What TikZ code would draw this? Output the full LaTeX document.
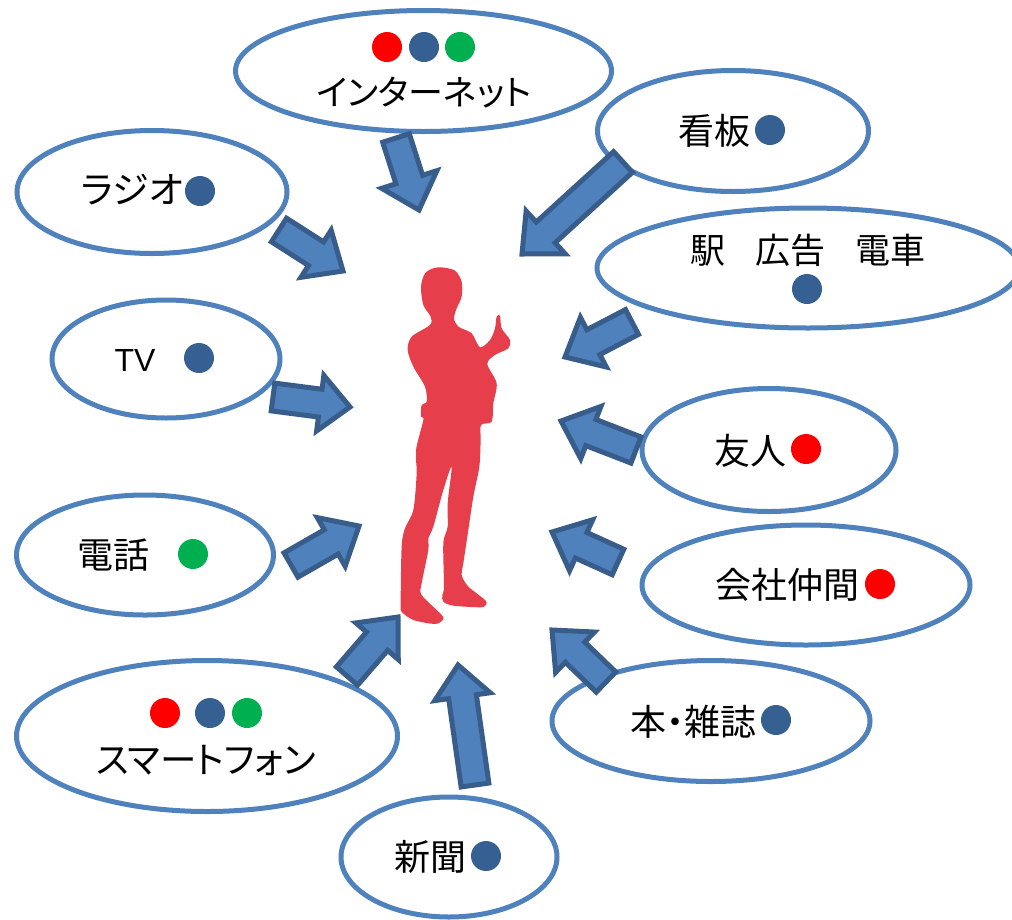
\documentclass[tikz,border=0pt]{standalone}
\usepackage{fontspec}
\usetikzlibrary{shapes.geometric,calc}
\setmainfont{Noto Sans CJK JP}[RawFeature=+palt]
\newfontfamily\latinfont{Liberation Sans}
\definecolor{ringblue}{HTML}{4F81BD}
\definecolor{arrowedge}{HTML}{385D8A}
\definecolor{dotblue}{HTML}{376092}
\definecolor{dotred}{HTML}{FF0000}
\definecolor{dotgreen}{HTML}{00B050}
\definecolor{person}{HTML}{E63E4A}
\tikzset{
  bubble/.style={ellipse,draw=ringblue,line width=5pt,fill=white,inner sep=0pt},
  label/.style={inner sep=0pt},
  dotb/.style={circle,fill=dotblue,minimum size=30pt,inner sep=0pt},
  dotr/.style={circle,fill=dotred,minimum size=30pt,inner sep=0pt},
  dotg/.style={circle,fill=dotgreen,minimum size=30pt,inner sep=0pt},
  barrow/.style={draw=arrowedge,fill=ringblue,line width=5pt,miter limit=10},
}
% tail, tip, shaft half width, head half width, head length
\newcommand\blockarrow[5]{%
  \coordinate (neck) at ($(#2)!#5pt!(#1)$);
  \draw[barrow] ($(#1)!#3pt!90:(#2)$) -- ($(neck)!#3pt!90:(#2)$) -- ($(neck)!#4pt!90:(#2)$) -- (#2)
    -- ($(neck)!#4pt!-90:(#2)$) -- ($(neck)!#3pt!-90:(#2)$) -- ($(#1)!#3pt!-90:(#2)$) -- cycle;
}
\begin{document}
\begin{tikzpicture}[x=1pt,y=-1pt]
\useasboundingbox (0,0) rectangle (1012,919);
% bubbles
\node[bubble,minimum width=376pt,minimum height=121pt] (net) at (423.5,71) {};
\node[bubble,minimum width=271pt,minimum height=121pt] (kanban) at (733,131) {};
\node[bubble,minimum width=270pt,minimum height=123pt] (radio) at (152,192) {};
\node[bubble,minimum width=422pt,minimum height=120pt] (eki) at (808,268) {};
\node[bubble,minimum width=228pt,minimum height=118pt] (tv) at (166,359) {};
\node[bubble,minimum width=254pt,minimum height=123pt] (friend) at (769,450) {};
\node[bubble,minimum width=257pt,minimum height=120pt] (phone) at (145,555) {};
\node[bubble,minimum width=328pt,minimum height=120pt] (work) at (806,585) {};
\node[bubble,minimum width=381pt,minimum height=151pt] (smart) at (207,736) {};
\node[bubble,minimum width=318pt,minimum height=121pt] (book) at (711,721) {};
\node[bubble,minimum width=216pt,minimum height=120pt] (news) at (449,857) {};
% labels
\node[label,font=\fontsize{35}{38}\selectfont] (tnet) at (424,93) {インターネット};
\node[label,font=\fontsize{36}{38}\selectfont] (tkan) at (714,131) {看板};
\node[label,font=\fontsize{37}{38}\selectfont] (trad) at (132,190) {ラジオ};
\node[label,font=\fontsize{35}{38}\selectfont] (teki) at (808,250) {駅\hspace{0.85em}広告\hspace{0.85em}電車};
\node[label,font=\fontsize{32}{34}\selectfont\latinfont] (ttv) at (135,360) {TV};
\node[label,font=\fontsize{36}{38}\selectfont] (tfri) at (750,451) {友人};
\node[label,font=\fontsize{36}{38}\selectfont] (tpho) at (113,555) {電話};
\node[label,font=\fontsize{36}{38}\selectfont] (twor) at (787,585) {会社仲間};
\node[label,font=\fontsize{36.5}{38}\selectfont] (tsma) at (206,760) {スマートフォン};
\node[label,font=\fontsize{36}{38}\selectfont] (tboo) at (693,722) {本・雑誌};
\node[label,font=\fontsize{36}{38}\selectfont] (tnew) at (430,857) {新聞};
% dots
\node[dotr] (d1) at (387,47) {};
\node[dotb] (d2) at (424,47) {};
\node[dotg] (d3) at (460,47) {};
\node[dotb] (d4) at (770,130) {};
\node[dotb] (d5) at (200,191) {};
\node[dotb] (d6) at (807,289) {};
\node[dotb] (d7) at (199,358) {};
\node[dotr] (d8) at (806,449) {};
\node[dotg] (d9) at (193,554) {};
\node[dotr] (d10) at (880,584) {};
\node[dotr] (d11) at (165,713) {};
\node[dotb] (d12) at (210,713) {};
\node[dotg] (d13) at (247,713) {};
\node[dotb] (d14) at (776,720) {};
\node[dotb] (d15) at (486,856) {};
% arrows
\coordinate (a1) at (396,138); \coordinate (b1) at (419,210);
\coordinate (a2) at (623,162); \coordinate (b2) at (522,254);
\coordinate (a3) at (279,230); \coordinate (b3) at (343,271);
\coordinate (a4) at (632,322); \coordinate (b4) at (565,357);
\coordinate (a5) at (273,397); \coordinate (b5) at (350,407);
\coordinate (a6) at (636,450); \coordinate (b6) at (561,421);
\coordinate (a7) at (291,565); \coordinate (b7) at (359,526);
\coordinate (a8) at (618,562); \coordinate (b8) at (552,532);
\coordinate (a9) at (606,682); \coordinate (b9) at (552,630);
\coordinate (a10) at (475,785); \coordinate (b10) at (458,665);
\coordinate (a11) at (347,676); \coordinate (b11) at (398,617);
\blockarrow{a1}{b1}{14}{29}{32}
\blockarrow{a2}{b2}{14}{29}{32}
\blockarrow{a3}{b3}{14}{28}{32}
\blockarrow{a4}{b4}{14}{28}{32}
\blockarrow{a5}{b5}{14}{28}{30}
\blockarrow{a6}{b6}{14}{28}{32}
\blockarrow{a7}{b7}{14}{28}{32}
\blockarrow{a8}{b8}{14}{28}{32}
\blockarrow{a9}{b9}{14}{28}{32}
\blockarrow{a10}{b10}{14}{28}{32}
\blockarrow{a11}{b11}{14}{28}{32}
% person
\begin{scope}[shift={(380,250)},x=0.3333pt,y=-0.3333pt]
\fill[person] plot[smooth cycle,tension=0.5] coordinates {
(185,52)(225,62)(245,95)(245,140)(230,175)(222,205)(235,230)(275,250)(300,292)(330,270)(345,235)(350,200)(360,197)(365,235)(390,270)(385,295)(345,315)(322,342)(350,400)(340,460)(335,515)(303,525)(302,570)
(298,650)(280,740)(265,840)(250,940)(245,975)(265,1010)(315,1050)(318,1065)(300,1072)(220,1067)(190,1055)(187,1035)(192,1010)(190,880)(203,830)(203,760)(215,650)(190,720)(160,830)(145,865)(145,900)(125,1000)(125,1035)(185,1095)(188,1110)(165,1122)(100,1110)(65,1085)(62,1060)(65,890)(75,835)(100,780)(110,670)(108,600)(130,510)(123,500)(125,465)(140,455)(135,410)(100,350)(83,300)(95,260)(150,225)(152,200)(130,165)(123,110)(135,70)(160,55)};
\end{scope}
\end{tikzpicture}
\end{document}
